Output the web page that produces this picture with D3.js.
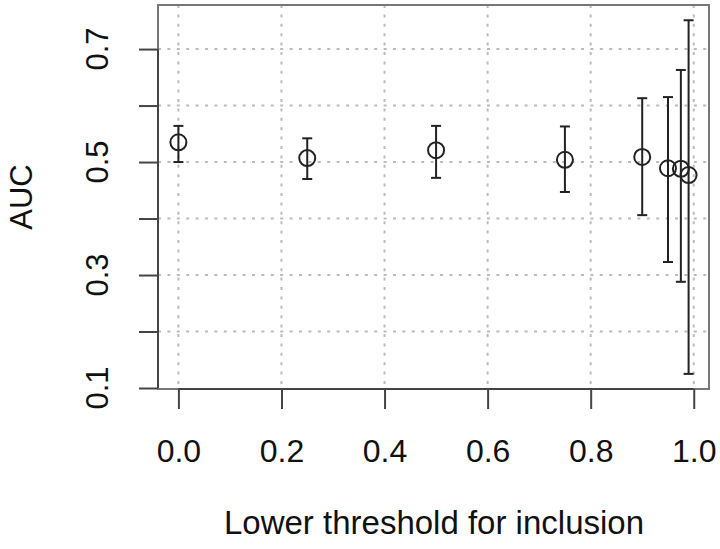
<!DOCTYPE html>
<html>
<head>
<meta charset="utf-8">
<script src="https://cdn.jsdelivr.net/npm/d3@7"></script>
<style>
  body { margin: 0; background: #fff; }
  text { font-family: "Liberation Sans", Arial, sans-serif; fill: #111; }
</style>
</head>
<body>
<script>
// data
var thresholds = [0, 0.25, 0.5, 0.75, 0.9, 0.95, 0.975, 0.99];
var auc        = [0.535, 0.507, 0.521, 0.504, 0.509, 0.489, 0.488, 0.477];
var lower      = [0.500, 0.470, 0.472, 0.447, 0.406, 0.323, 0.288, 0.125];
var upper      = [0.564, 0.542, 0.564, 0.563, 0.613, 0.615, 0.663, 0.751];

var xTicks = [0, 0.2, 0.4, 0.6, 0.8, 1.0];
var yTicks = [0.1, 0.2, 0.3, 0.4, 0.5, 0.6, 0.7];
var yLabels = [0.1, 0.3, 0.5, 0.7];

var W = 720, H = 549;
var pLeft = 158, pRight = 709, pTop = 5, pBottom = 389;

var svg = d3.select("body").append("svg")
    .attr("width", W)
    .attr("height", H);

var x = d3.scaleLinear().domain([-0.0396, 1.0296]).range([pLeft, pRight]);
var y = d3.scaleLinear().domain([0.1, 0.778]).range([pBottom - 1, pTop]);

// grid (dotted, light grey)
svg.selectAll("line.vgrid")
    .data(xTicks)
    .enter().append("line")
    .attr("x1", function(d){ return x(d); })
    .attr("x2", function(d){ return x(d); })
    .attr("y1", pTop)
    .attr("y2", pBottom)
    .attr("stroke", "#bbb")
    .attr("stroke-width", 2)
    .attr("stroke-dasharray", "3,6.4");

svg.selectAll("line.hgrid")
    .data(yTicks.slice(1))
    .enter().append("line")
    .attr("x1", pLeft)
    .attr("x2", pRight)
    .attr("y1", function(d){ return y(d); })
    .attr("y2", function(d){ return y(d); })
    .attr("stroke", "#bbb")
    .attr("stroke-width", 2)
    .attr("stroke-dasharray", "3,6.4");

// box
svg.append("rect")
    .attr("x", pLeft)
    .attr("y", pTop)
    .attr("width", pRight - pLeft)
    .attr("height", pBottom - pTop)
    .attr("fill", "none")
    .attr("stroke", "#777")
    .attr("stroke-width", 2);

// x axis
var xAxis = d3.axisBottom(x)
    .tickValues(xTicks)
    .tickSize(20)
    .tickPadding(30)
    .tickFormat(d3.format(".1f"));
var gx = svg.append("g")
    .attr("transform", "translate(0," + pBottom + ")")
    .call(xAxis);
gx.select(".domain").attr("d", "M" + x(0) + ",0H" + x(1)).attr("stroke", "#444").attr("stroke-width", 2);
gx.selectAll(".tick line").attr("stroke", "#444").attr("stroke-width", 2);
gx.selectAll(".tick text")
    .attr("font-size", 32)
    .attr("font-family", "Liberation Sans, Arial, sans-serif")
    .attr("fill", "#111");

// y axis
var yAxis = d3.axisLeft(y)
    .tickValues(yTicks)
    .tickSize(19)
    .tickFormat("");
var gy = svg.append("g")
    .attr("transform", "translate(" + pLeft + ",0)")
    .call(yAxis);
gy.select(".domain").attr("d", "M0," + y(0.1) + "V" + y(0.7)).attr("stroke", "#444").attr("stroke-width", 2);
gy.selectAll(".tick line").attr("stroke", "#444").attr("stroke-width", 2);

svg.selectAll("text.ylab")
    .data(yLabels)
    .enter().append("text")
    .attr("class", "ylab")
    .attr("transform", function(d){ return "translate(108," + y(d) + ") rotate(-90)"; })
    .attr("text-anchor", "middle")
    .attr("font-size", 31)
    .text(function(d){ return d3.format(".1f")(d); });

// error bars
var pts = thresholds.map(function(t, i){
    return {x: t, auc: auc[i], lo: lower[i], hi: upper[i]};
});

var bars = svg.selectAll("g.bar")
    .data(pts)
    .enter().append("g")
    .attr("stroke", "#222")
    .attr("stroke-width", 2);

bars.append("line")
    .attr("x1", function(d){ return x(d.x); })
    .attr("x2", function(d){ return x(d.x); })
    .attr("y1", function(d){ return y(d.lo); })
    .attr("y2", function(d){ return y(d.hi); });
bars.append("line")
    .attr("x1", function(d){ return x(d.x) - 5; })
    .attr("x2", function(d){ return x(d.x) + 5; })
    .attr("y1", function(d){ return y(d.lo); })
    .attr("y2", function(d){ return y(d.lo); });
bars.append("line")
    .attr("x1", function(d){ return x(d.x) - 5; })
    .attr("x2", function(d){ return x(d.x) + 5; })
    .attr("y1", function(d){ return y(d.hi); })
    .attr("y2", function(d){ return y(d.hi); });

// points
svg.selectAll("circle")
    .data(pts)
    .enter().append("circle")
    .attr("cx", function(d){ return x(d.x); })
    .attr("cy", function(d){ return y(d.auc); })
    .attr("r", 8)
    .attr("fill", "none")
    .attr("stroke", "#222")
    .attr("stroke-width", 2);

// axis titles
svg.append("text")
    .attr("x", 434)
    .attr("y", 534)
    .attr("text-anchor", "middle")
    .attr("font-size", 33)
    .text("Lower threshold for inclusion");

svg.append("text")
    .attr("transform", "translate(32," + ((pTop + pBottom) / 2) + ") rotate(-90)")
    .attr("text-anchor", "middle")
    .attr("font-size", 31)
    .text("AUC");
</script>
</body>
</html>
